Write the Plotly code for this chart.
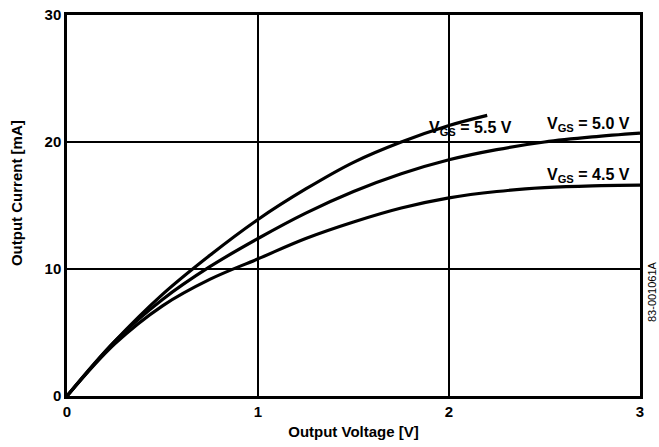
import plotly.graph_objects as go

# Data
v_55 = [0, 0.25, 0.5, 0.75, 1.0, 1.25, 1.5, 1.75, 2.0, 2.2]
i_55 = [0, 4.3, 8.0, 11.1, 13.9, 16.3, 18.4, 20.0, 21.3, 22.1]

v_50 = [0, 0.25, 0.5, 0.75, 1.0, 1.25, 1.5, 1.75, 2.0, 2.25, 2.5, 2.75, 3.0]
i_50 = [0, 4.3, 7.6, 10.2, 12.4, 14.4, 16.1, 17.5, 18.6, 19.4, 20.0, 20.4, 20.7]

v_45 = [0, 0.25, 0.5, 0.75, 1.0, 1.25, 1.5, 1.75, 2.0, 2.25, 2.5, 2.75, 3.0]
i_45 = [0, 4.1, 7.1, 9.2, 10.8, 12.4, 13.7, 14.8, 15.6, 16.1, 16.4, 16.55, 16.6]

labels = ["V<sub>GS</sub> = 5.5 V", "V<sub>GS</sub> = 5.0 V", "V<sub>GS</sub> = 4.5 V"]
label_x = [2.115, 2.73, 2.73]
label_y = [21.1, 21.35, 17.35]

x_ticks = [0, 1, 2, 3]
y_ticks = [0, 10, 20, 30]

FONT = "Liberation Sans, Arial, sans-serif"

fig = go.Figure()
for vx, iy in [(v_55, i_55), (v_50, i_50), (v_45, i_45)]:
    fig.add_trace(go.Scatter(x=vx, y=iy, mode="lines",
                             line=dict(color="black", width=3.2, shape="spline", smoothing=1.0),
                             showlegend=False, hoverinfo="skip"))

for t, x, y in zip(labels, label_x, label_y):
    fig.add_annotation(x=x, y=y, text="<b>" + t + "</b>", showarrow=False,
                       font=dict(family=FONT, size=16, color="black"))

fig.add_annotation(xref="paper", yref="paper", x=1.021, y=0.273,
                   xanchor="center", yanchor="middle",
                   text="83-001061A", textangle=-90, showarrow=False,
                   font=dict(family=FONT, size=11, color="black"))

# y-axis title as an annotation to place it as in the reference
fig.add_annotation(xref="paper", yref="paper", x=-0.087, y=0.533,
                   xanchor="center", yanchor="middle",
                   text="<b>Output Current [mA]</b>", textangle=-90, showarrow=False,
                   font=dict(family=FONT, size=15, color="black"))

fig.update_xaxes(range=[0, 3], tickvals=x_ticks,
                 ticktext=["<b>%d</b>" % v for v in x_ticks],
                 showgrid=True, gridcolor="black", gridwidth=1.5,
                 showline=True, linecolor="black", linewidth=2.5, mirror=True,
                 zeroline=False, ticks="", automargin=False,
                 tickfont=dict(family=FONT, size=15, color="black"),
                 title=dict(text="<b>Output Voltage [V]</b>",
                            font=dict(family=FONT, size=15, color="black"),
                            standoff=8))
fig.update_yaxes(range=[0, 30], tickvals=y_ticks,
                 ticktext=["<b>%d</b>" % v for v in y_ticks],
                 showgrid=True, gridcolor="black", gridwidth=1.5,
                 showline=True, linecolor="black", linewidth=2.5, mirror=True,
                 zeroline=False, ticks="", automargin=False,
                 tickfont=dict(family=FONT, size=15, color="black"))

fig.update_layout(width=659, height=447,
                  margin=dict(l=67, r=19, t=15, b=51),
                  plot_bgcolor="white", paper_bgcolor="white")

# remove the default page margin so the figure sits at the window's top-left corner
fig.write_html("out.html", config={"displayModeBar": False},
               post_script="document.body.style.margin='0px';")
